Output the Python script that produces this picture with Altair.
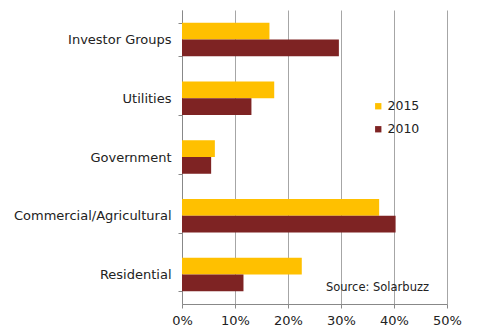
import altair as alt
import pandas as pd

categories = ["Investor Groups", "Utilities", "Government", "Commercial/Agricultural", "Residential"]
share_2015 = [0.165, 0.174, 0.062, 0.372, 0.226]
share_2010 = [0.296, 0.131, 0.055, 0.403, 0.116]
years = ["2015", "2010"]
colors = ["#FFC000", "#7E2323"]
x_ticks = [0, 0.1, 0.2, 0.3, 0.4, 0.5]
source_note = ["Source: Solarbuzz"]

rows = []
for c, a, b in zip(categories, share_2015, share_2010):
    rows.append({"segment": c, "year": "2015", "share": a})
    rows.append({"segment": c, "year": "2010", "share": b})
df = pd.DataFrame(rows)

FONT = "DejaVu Sans"

bars = alt.Chart(df).mark_bar().encode(
    y=alt.Y("segment:N", sort=categories, title=None,
            scale=alt.Scale(paddingInner=0.43, paddingOuter=0.215),
            axis=alt.Axis(tickBand="extent", grid=False, domainColor="#888888",
                          tickColor="#888888", tickSize=4, labelPadding=7,
                          labelFont=FONT, labelFontSize=13, labelColor="#222222")),
    yOffset=alt.YOffset("year:N", sort=years),
    x=alt.X("share:Q", title=None,
            scale=alt.Scale(domain=[0, 0.5], nice=False),
            axis=alt.Axis(values=x_ticks, format=".0%", grid=True, gridColor="#A6A6A6",
                          domainColor="#888888", tickColor="#888888", tickSize=4,
                          labelFlush=False, labelPadding=6, labelFont=FONT,
                          labelFontSize=13, labelColor="#222222")),
    color=alt.Color("year:N", sort=years,
                    scale=alt.Scale(domain=years, range=colors),
                    legend=alt.Legend(orient="none", legendX=190, legendY=90, title=None,
                                      symbolType="square", symbolSize=40,
                                      symbolStrokeWidth=0, labelFont=FONT,
                                      labelFontSize=12.5, labelColor="#222222",
                                      labelOffset=3, rowPadding=10)),
)

src = alt.Chart(pd.DataFrame({"t": source_note})).mark_text(
    align="left", baseline="middle", font=FONT, fontSize=11.5, color="#222222"
).encode(text="t:N", x=alt.value(144), y=alt.value(278))

chart = alt.layer(bars, src).properties(
    width=265, height=294,
    autosize=alt.AutoSizeParams(type="none"),
    padding={"left": 182, "top": 10, "right": 53, "bottom": 26},
    background="white",
).configure_view(stroke=None)

chart.save("out.html", embed_options={"renderer": "svg", "actions": False})
